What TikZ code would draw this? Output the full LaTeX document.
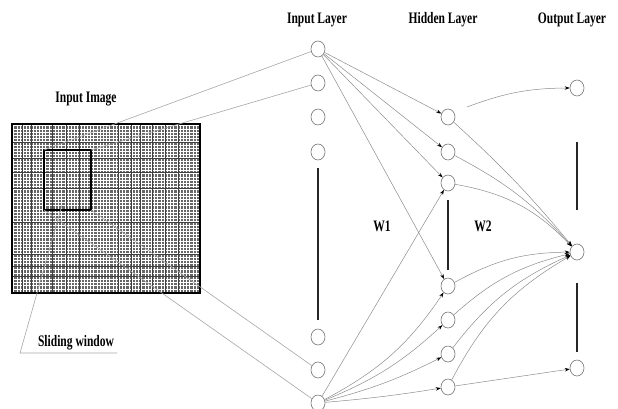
\documentclass[tikz,border=0pt]{standalone}
\usepackage{fontspec}
\setmainfont{Liberation Serif}
\usetikzlibrary{arrows.meta,shapes.geometric}
\begin{document}
\begin{tikzpicture}[x=1pt,y=-1pt,
  neuron/.style={draw=black!55, line width=0.6pt, shape=ellipse, minimum width=14pt, minimum height=16pt, inner sep=0pt, fill=white},
  conn/.style={draw=black!45, line width=0.5pt, -{Stealth[length=5pt,width=3.5pt,black]}},
  wire/.style={draw=black!35, line width=0.6pt},
  bar/.style={draw=black!85, line width=1.4pt},
  lbl/.style={inner sep=0pt, font=\bfseries\fontsize{16}{16}\selectfont}]
\useasboundingbox (0,0) rectangle (618,409);
% input image grid
\fill[black!60] (12,124) rectangle (200,293);
\foreach \x in {13.6,16.8,...,199} \draw[white!75, line width=0.55pt] (\x,124) -- (\x,293);
\foreach \y in {125.6,128.8,...,292} \draw[white!75, line width=0.55pt] (12,\y) -- (200,\y);
\foreach \x in {22,31,52,66,79,118,131,140,152,165,178} \draw[black!75, line width=0.4pt] (\x,124) -- (\x,293);
\foreach \y in {142,158,172,188,222,254,266,276} \draw[black!75, line width=0.4pt] (12,\y) -- (200,\y);
\draw[black, line width=1.2pt] (12,124) rectangle (200,293);
\draw[black, line width=1.5pt] (44,150) rectangle (91,210);
\coordinate (wtl) at (44,150);
\coordinate (wtr) at (91,150);
\coordinate (wbl) at (44,210);
\coordinate (wbr) at (91,210);
% neurons
\foreach \n/\y in {1/49,2/83,3/117,4/152,5/337,6/370,7/403} \node[neuron] (i\n) at (318,\y) {};
\foreach \n/\y in {1/117,2/152,3/183,4/286,5/320,6/354,7/387} \node[neuron] (h\n) at (448,\y) {};
\foreach \n/\y in {1/88,2/252,3/368} \node[neuron] (o\n) at (577,\y) {};
% image to input layer
\draw[wire] (wtl) -- (i1);
\draw[wire] (wtr) -- (i2);
\draw[wire] (wbl) -- (i7);
\draw[wire] (wbr) -- (i6);
% sliding window pointer
\coordinate (sw0) at (20,353);
\coordinate (sw1) at (117,353);
\coordinate (sw2) at (62,205);
\draw[wire] (sw2) -- (sw0) -- (sw1);
\node[lbl] (swl) at (76,343) {\scalebox{0.72}[1]{Sliding window}};
% bars
\coordinate (b1a) at (318,168); \coordinate (b1b) at (318,320);
\coordinate (b2a) at (448,200); \coordinate (b2b) at (448,270);
\coordinate (b3a) at (577,142); \coordinate (b3b) at (577,210);
\coordinate (b4a) at (577,283); \coordinate (b4b) at (577,352);
\draw[bar] (b1a) -- (b1b);
\draw[bar] (b2a) -- (b2b);
\draw[bar] (b3a) -- (b3b);
\draw[bar] (b4a) -- (b4b);
% input to hidden
\foreach \h in {1,2,3,4} \draw[conn] (i1) -- (h\h);
\draw[conn] (i7) -- (h3);
\draw[conn] (i7) to[bend right=14] (h4);
\draw[conn] (i7) to[bend right=10] (h5);
\draw[conn] (i7) to[bend right=6] (h6);
\draw[conn] (i7) to[bend right=2] (h7);
% hidden to output
\coordinate (fa) at (467,107);
\draw[conn] (fa) to[bend left=10] (o1);
\draw[conn] (h1) to[bend left=4] (o2);
\draw[conn] (h2) to[bend left=10] (o2);
\draw[conn] (h3) to[bend left=18] (o2);
\draw[conn] (h4) to[bend left=14] (o2);
\draw[conn] (h5) to[bend left=14] (o2);
\draw[conn] (h6) to[bend left=14] (o2);
\draw[conn] (h7) to[bend left=16] (o2);
\draw[conn] (h7) -- (o3);
% labels
\node[lbl] (limg) at (86,99) {\scalebox{0.72}[1]{Input Image}};
\node[lbl] (lin) at (317,20) {\scalebox{0.72}[1]{Input Layer}};
\node[lbl] (lhid) at (443,20) {\scalebox{0.72}[1]{Hidden Layer}};
\node[lbl] (lout) at (572,20) {\scalebox{0.72}[1]{Output Layer}};
\node[lbl] (w1) at (382,226) {\scalebox{0.72}[1]{W1}};
\node[lbl] (w2) at (483,226) {\scalebox{0.72}[1]{W2}};
\end{tikzpicture}
\end{document}
